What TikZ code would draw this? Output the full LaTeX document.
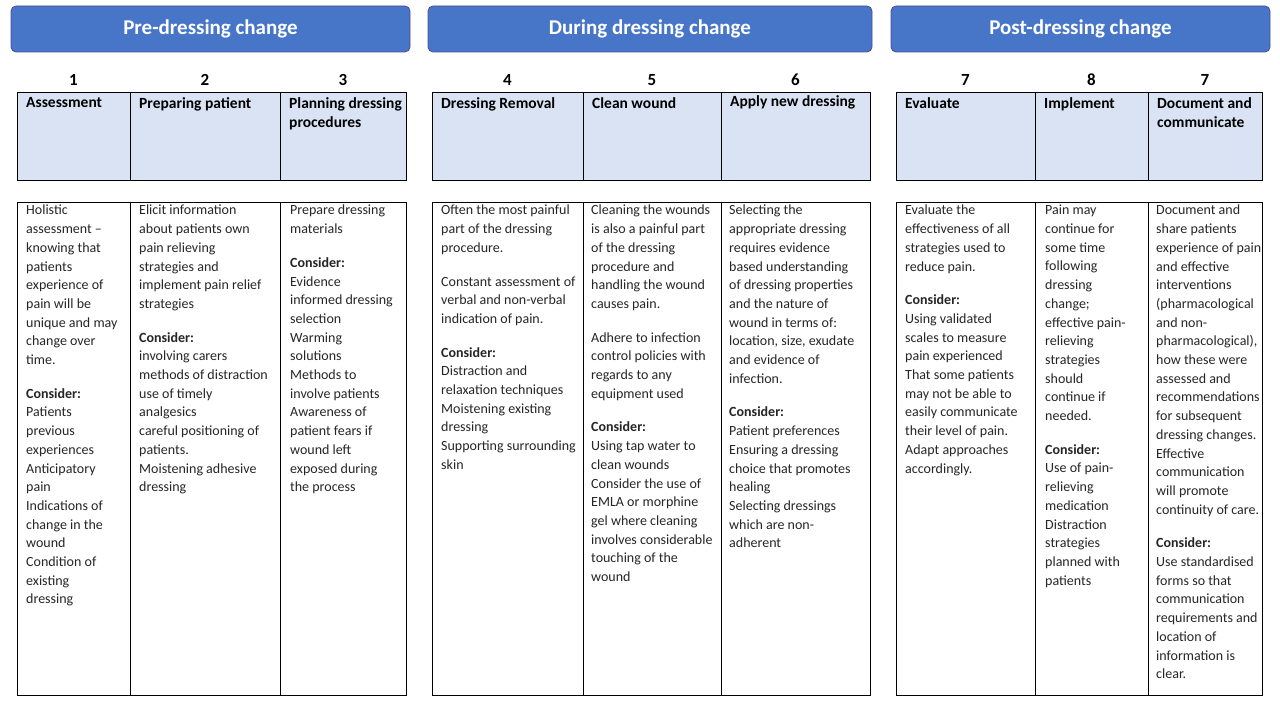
\documentclass[tikz,border=0pt]{standalone}
\usepackage{fontspec}
\setmainfont{Carlito}
\begin{document}
\begin{tikzpicture}[x=1pt,y=-1pt,
 grp/.style={draw=blue!40!black!70,fill=hb,rounded corners=5pt,line width=0.8pt,text=white,font=\bfseries\fontsize{21}{24}\selectfont},
 hc/.style={draw=black,fill=hc,line width=0.8pt},
 bc/.style={draw=black,fill=white,line width=0.8pt},
 num/.style={font=\bfseries\fontsize{17}{18}\selectfont},
 ht/.style={anchor=north west,align=left,font=\bfseries\fontsize{15.5}{19}\selectfont,inner sep=0pt},
 bt/.style={anchor=north west,align=left,font=\fontsize{14}{18.7}\selectfont,text=black!85,inner sep=0pt}]
\definecolor{hb}{RGB}{71,118,200}
\definecolor{hc}{RGB}{218,227,243}
\useasboundingbox (0,0) rectangle (1280,703);
\node[grp,minimum width=399,minimum height=46] (g1) at (210.5,29) {Pre-dressing change};
\node[grp,minimum width=444,minimum height=46] (g2) at (650,29) {During dressing change};
\node[grp,minimum width=379,minimum height=46] (g3) at (1080.5,29) {Post-dressing change};
\foreach \a/\b/\n/\c in {17/130/1/c1,130/280/2/c2,280/406/3/c3,432/583/4/c4,583/721/5/c5,721/870/6/c6,896/1035/7/c7,1035/1148/8/c8,1148/1262/7/c9}{
 \draw[hc] (\a,92) rectangle (\b,180);
 \draw[bc] (\a,202) rectangle (\b,695);
 \node[num] (n\c) at ({(\a+\b)/2},80) {\n};
}
\node[ht] (h1) at (26,97) {Assessment};
\node[ht] (h2) at (139,97) {Preparing patient};
\node[ht] (h3) at (289,97) {Planning dressing\\procedures};
\node[ht] (h4) at (441,97) {Dressing Removal};
\node[ht] (h5) at (592,97) {Clean wound};
\node[ht] (h6) at (730,95) {Apply new dressing};
\node[ht] (h7) at (905,97) {Evaluate};
\node[ht] (h8) at (1044,97) {Implement};
\node[ht] (h9) at (1157,97) {Document and\\communicate};
\def\cs{\textbf{Consider:}}
\node[bt] (b1) at (26,205) {Holistic\\assessment --\\knowing that\\patients\\experience of\\pain will be\\unique and may\\change over\\time.\\[15pt]\cs\\Patients\\previous\\experiences\\Anticipatory\\pain\\Indications of\\change in the\\wound\\Condition of\\existing\\dressing};
\node[bt] (b2) at (139,205) {Elicit information\\about patients own\\pain relieving\\strategies and\\implement pain relief\\strategies\\[15pt]\cs\\involving carers\\methods of distraction\\use of timely\\analgesics\\careful positioning of\\patients.\\Moistening adhesive\\dressing};
\node[bt] (b3) at (290,205) {Prepare dressing\\materials\\[15pt]\cs\\Evidence\\informed dressing\\selection\\Warming\\solutions\\Methods to\\involve patients\\Awareness of\\patient fears if\\wound left\\exposed during\\the process};
\node[bt] (b4) at (441,205) {Often the most painful\\part of the dressing\\procedure.\\[15pt]Constant assessment of\\verbal and non-verbal\\indication of pain.\\[15pt]\cs\\Distraction and\\relaxation techniques\\Moistening existing\\dressing\\Supporting surrounding\\skin};
\node[bt] (b5) at (591,205) {Cleaning the wounds\\is also a painful part\\of the dressing\\procedure and\\handling the wound\\causes pain.\\[15pt]Adhere to infection\\control policies with\\regards to any\\equipment used\\[15pt]\cs\\Using tap water to\\clean wounds\\Consider the use of\\EMLA or morphine\\gel where cleaning\\involves considerable\\touching of the\\wound};
\node[bt] (b6) at (729,205) {Selecting the\\appropriate dressing\\requires evidence\\based understanding\\of dressing properties\\and the nature of\\wound in terms of:\\location, size, exudate\\and evidence of\\infection.\\[15pt]\cs\\Patient preferences\\Ensuring a dressing\\choice that promotes\\healing\\Selecting dressings\\which are non-\\adherent};
\node[bt] (b7) at (905,205) {Evaluate the\\effectiveness of all\\strategies used to\\reduce pain.\\[15pt]\cs\\Using validated\\scales to measure\\pain experienced\\That some patients\\may not be able to\\easily communicate\\their level of pain.\\Adapt approaches\\accordingly.};
\node[bt] (b8) at (1045,205) {Pain may\\continue for\\some time\\following\\dressing\\change;\\effective pain-\\relieving\\strategies\\should\\continue if\\needed.\\[15pt]\cs\\Use of pain-\\relieving\\medication\\Distraction\\strategies\\planned with\\patients};
\node[bt] (b9) at (1156,205) {Document and\\share patients\\experience of pain\\and effective\\interventions\\(pharmacological\\and non-\\pharmacological),\\how these were\\assessed and\\recommendations\\for subsequent\\dressing changes.\\Effective\\communication\\will promote\\continuity of care.\\[15pt]\cs\\Use standardised\\forms so that\\communication\\requirements and\\location of\\information is\\clear.};
\end{tikzpicture}
\end{document}
